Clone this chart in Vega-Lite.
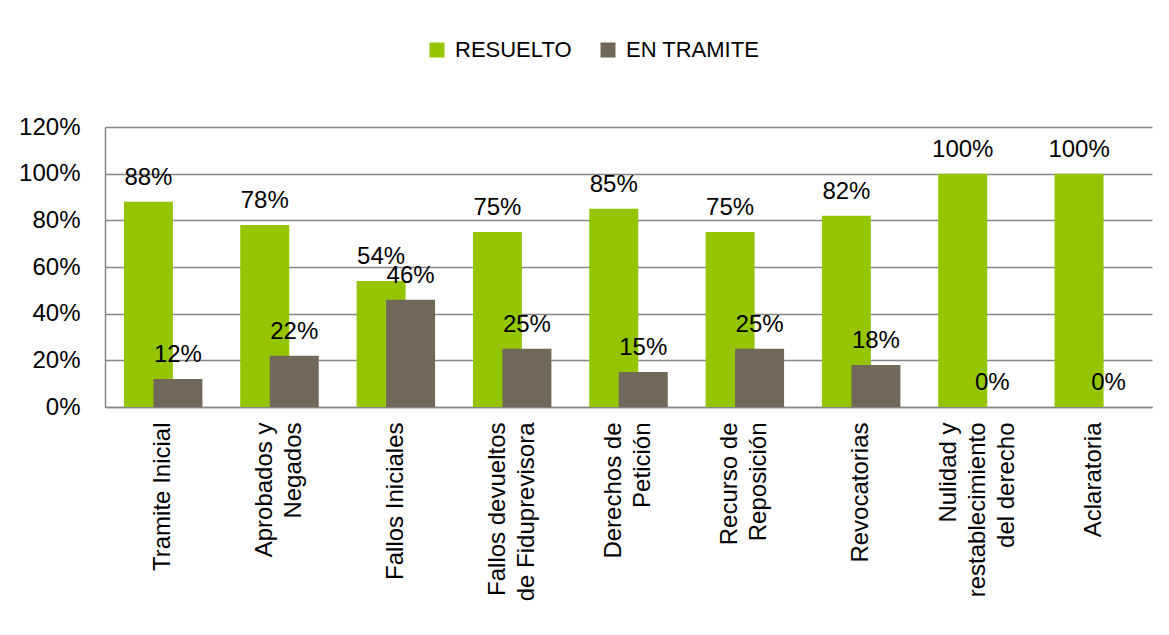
{
  "$schema": "https://vega.github.io/schema/vega-lite/v6.json",
  "width": 1047,
  "height": 280,
  "autosize": "none",
  "padding": {"left": 105, "top": 127, "right": 17, "bottom": 228},
  "background": "white",
  "data": {
    "values": [
      {"categoria": "Tramite Inicial", "serie": "RESUELTO", "valor": 0.88},
      {"categoria": "Aprobados y Negados", "serie": "RESUELTO", "valor": 0.78},
      {"categoria": "Fallos Iniciales", "serie": "RESUELTO", "valor": 0.54},
      {"categoria": "Fallos devueltos de Fiduprevisora", "serie": "RESUELTO", "valor": 0.75},
      {"categoria": "Derechos de Petición", "serie": "RESUELTO", "valor": 0.85},
      {"categoria": "Recurso de Reposición", "serie": "RESUELTO", "valor": 0.75},
      {"categoria": "Revocatorias", "serie": "RESUELTO", "valor": 0.82},
      {"categoria": "Nulidad y restablecimiento del derecho", "serie": "RESUELTO", "valor": 1.0},
      {"categoria": "Aclaratoria", "serie": "RESUELTO", "valor": 1.0},
      {"categoria": "Tramite Inicial", "serie": "EN TRAMITE", "valor": 0.12},
      {"categoria": "Aprobados y Negados", "serie": "EN TRAMITE", "valor": 0.22},
      {"categoria": "Fallos Iniciales", "serie": "EN TRAMITE", "valor": 0.46},
      {"categoria": "Fallos devueltos de Fiduprevisora", "serie": "EN TRAMITE", "valor": 0.25},
      {"categoria": "Derechos de Petición", "serie": "EN TRAMITE", "valor": 0.15},
      {"categoria": "Recurso de Reposición", "serie": "EN TRAMITE", "valor": 0.25},
      {"categoria": "Revocatorias", "serie": "EN TRAMITE", "valor": 0.18},
      {"categoria": "Nulidad y restablecimiento del derecho", "serie": "EN TRAMITE", "valor": 0.0},
      {"categoria": "Aclaratoria", "serie": "EN TRAMITE", "valor": 0.0}
    ]
  },
  "encoding": {
    "x": {
      "field": "categoria",
      "type": "nominal",
      "sort": null,
      "scale": {"paddingInner": 0, "paddingOuter": 0},
      "axis": {
        "title": null,
        "labelAngle": -90,
        "labelAlign": "right",
        "labelBaseline": "middle",
        "labelPadding": 15,
        "labelLimit": 400,
        "labelOverlap": false,
        "labelLineHeight": 29,
        "labelOffset": {
          "condition": [
            {"test": "datum.value == 'Nulidad y restablecimiento del derecho'", "value": -29},
            {"test": "datum.value == 'Aprobados y Negados' || datum.value == 'Fallos devueltos de Fiduprevisora' || datum.value == 'Derechos de Petición' || datum.value == 'Recurso de Reposición'", "value": -14.5}
          ],
          "value": 0
        },
        "ticks": false,
        "domainColor": "#868686",
        "domainWidth": 1.5,
        "labelExpr": "datum.value == 'Aprobados y Negados' ? ['Aprobados y', 'Negados'] : datum.value == 'Fallos devueltos de Fiduprevisora' ? ['Fallos devueltos', 'de Fiduprevisora'] : datum.value == 'Derechos de Petición' ? ['Derechos de', 'Petición'] : datum.value == 'Recurso de Reposición' ? ['Recurso de', 'Reposición'] : datum.value == 'Nulidad y restablecimiento del derecho' ? ['Nulidad y', 'restablecimiento', 'del derecho'] : datum.value"
      }
    },
    "y": {
      "field": "valor",
      "type": "quantitative",
      "scale": {"domain": [0, 1.2], "nice": false},
      "axis": {
        "title": null,
        "format": ".0%",
        "values": [0, 0.2, 0.4, 0.6, 0.8, 1.0, 1.2],
        "ticks": false,
        "labelPadding": 25,
        "grid": true,
        "gridColor": "#868686",
        "gridWidth": 1.5,
        "domainColor": "#868686",
        "domainWidth": 1.5
      }
    }
  },
  "layer": [
    {
      "transform": [{"filter": "datum.serie == 'RESUELTO'"}],
      "mark": {"type": "bar", "width": 49, "xOffset": -14.75},
      "encoding": {
        "color": {
          "field": "serie",
          "type": "nominal",
          "scale": {"domain": ["RESUELTO", "EN TRAMITE"], "range": ["#93C500", "#72685A"]},
          "legend": {
            "title": null,
            "orient": "none",
            "direction": "horizontal",
            "legendX": 321,
            "legendY": -88,
            "symbolType": "square",
            "symbolSize": 225,
            "symbolStrokeWidth": 0,
            "labelFontSize": 22,
            "labelOffset": 7,
            "columnPadding": 25,
            "padding": 0
          }
        }
      }
    },
    {
      "transform": [{"filter": "datum.serie == 'EN TRAMITE'"}],
      "mark": {"type": "bar", "width": 49, "xOffset": 14.75},
      "encoding": {
        "color": {"field": "serie", "type": "nominal"}
      }
    },
    {
      "transform": [{"filter": "datum.serie == 'RESUELTO'"}],
      "mark": {"type": "text", "xOffset": -14.75, "dy": -17, "baseline": "alphabetic", "fontSize": 24, "color": "#000000"},
      "encoding": {
        "text": {"field": "valor", "type": "quantitative", "format": ".0%"}
      }
    },
    {
      "transform": [{"filter": "datum.serie == 'EN TRAMITE'"}],
      "mark": {"type": "text", "xOffset": 14.75, "dy": -17, "baseline": "alphabetic", "fontSize": 24, "color": "#000000"},
      "encoding": {
        "text": {"field": "valor", "type": "quantitative", "format": ".0%"}
      }
    }
  ],
  "config": {
    "font": "Liberation Sans",
    "view": {"stroke": null},
    "axis": {"labelFont": "Liberation Sans", "labelFontSize": 24, "labelColor": "#000000"},
    "legend": {"labelFont": "Liberation Sans", "labelColor": "#000000"}
  }
}
